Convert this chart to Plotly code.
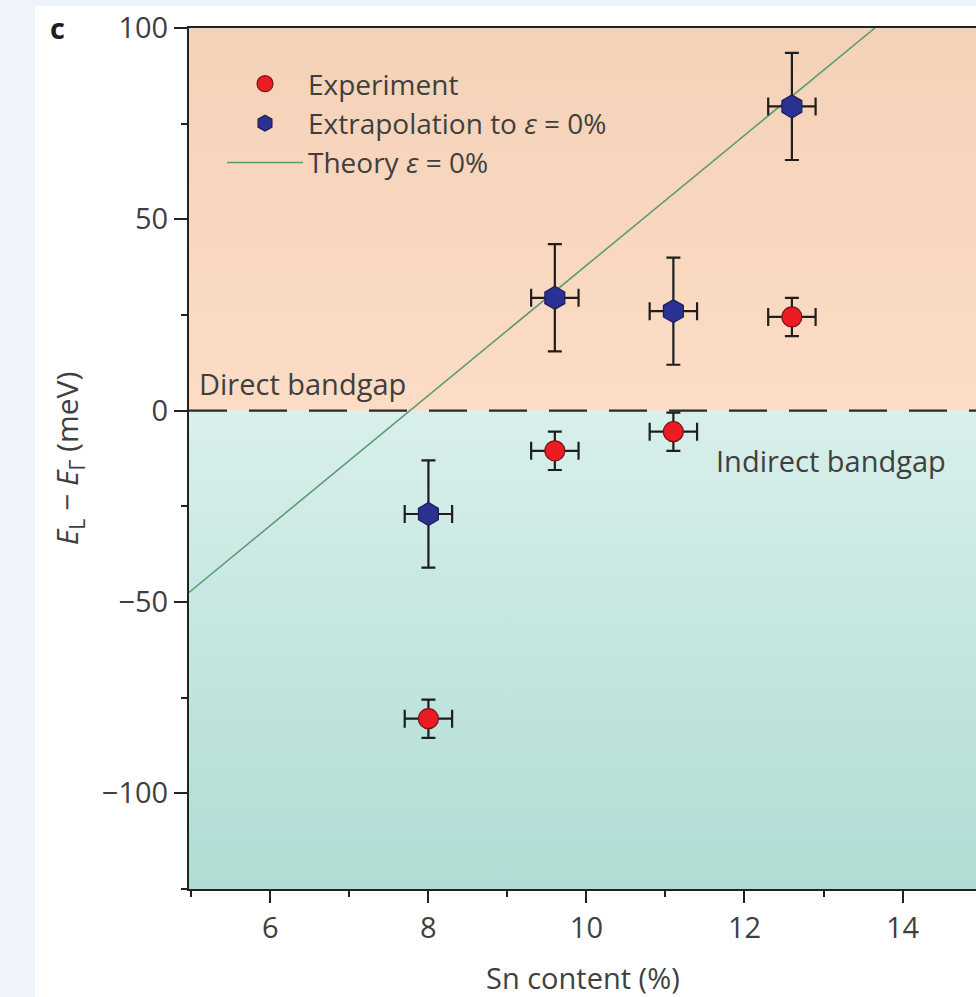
import plotly.graph_objects as go

# ---------------- data ----------------
exp_x = [8.0, 9.6, 11.1, 12.6]
exp_y = [-80.5, -10.5, -5.5, 24.5]
exp_xerr = [0.3, 0.3, 0.3, 0.3]
exp_yerr = [5, 5, 5, 5]

ext_x = [8.0, 9.6, 11.1, 12.6]
ext_y = [-27.0, 29.5, 26.0, 79.5]
ext_xerr = [0.3, 0.3, 0.3, 0.3]
ext_yerr = [14, 14, 14, 14]

theory_x = [4.97, 13.65]
theory_y = [-47.5, 100.0]

x_range = [4.97, 14.93]
y_range = [-125, 100]
y_ticks = [-100, -50, 0, 50, 100]
x_ticks = [6, 8, 10, 12, 14]

region_direct = [0, 100]
region_indirect = [-125, 0]

# ---------------- layout geometry ----------------
W, H = 976, 997
ML, MR, MT, MB = 189, 0, 28, 108
PW, PH = W - ML - MR, H - MT - MB

FONT = "Open Sans"
TXT = "#3f3f3f"
FS = 29

fig = go.Figure()

# background gradient regions
fig.add_trace(go.Scatter(
    x=[x_range[0], x_range[1], x_range[1], x_range[0]],
    y=[region_direct[0], region_direct[0], region_direct[1], region_direct[1]],
    fill="toself", mode="none", showlegend=False, hoverinfo="skip",
    fillgradient=dict(type="vertical", start=region_direct[0], stop=region_direct[1],
                      colorscale=[[0, "#fddcc5"], [1, "#f4d2b8"]]),
))
fig.add_trace(go.Scatter(
    x=[x_range[0], x_range[1], x_range[1], x_range[0]],
    y=[region_indirect[0], region_indirect[0], region_indirect[1], region_indirect[1]],
    fill="toself", mode="none", showlegend=False, hoverinfo="skip",
    fillgradient=dict(type="vertical", start=region_indirect[0], stop=region_indirect[1],
                      colorscale=[[0, "#afdcd4"], [1, "#d9efeb"]]),
))

# theory line
fig.add_trace(go.Scatter(
    x=theory_x, y=theory_y, mode="lines", name="Theory <i>ε</i> = 0%",
    line=dict(color="#5a9c76", width=1.6), hoverinfo="skip", legendrank=3,
))

err_style = dict(color="#1e1e1e", thickness=2.2)

fig.add_trace(go.Scatter(
    x=exp_x, y=exp_y, mode="markers", name="Experiment", legendrank=1,
    marker=dict(symbol="circle", size=20, color="#ec1c24",
                line=dict(color="#7a1418", width=1.2)),
    error_x=dict(type="data", array=exp_xerr, width=9, **err_style),
    error_y=dict(type="data", array=exp_yerr, width=7, **err_style),
))
fig.add_trace(go.Scatter(
    x=ext_x, y=ext_y, mode="markers", name="Extrapolation to <i>ε</i> = 0%", legendrank=2,
    marker=dict(symbol="hexagon", size=23, color="#2b3192",
                line=dict(color="#1a1c55", width=1.2)),
    error_x=dict(type="data", array=ext_xerr, width=9, **err_style),
    error_y=dict(type="data", array=ext_yerr, width=7, **err_style),
))

# panel backgrounds (page strip + white panel)
px = lambda p: (p - ML) / PW
py = lambda p: (H - MB - p) / PH
shapes = [
    dict(type="rect", xref="paper", yref="paper", x0=px(35), x1=px(W + 5), y0=py(H + 5), y1=py(6),
         fillcolor="white", line=dict(width=0), layer="below"),
    dict(type="line", xref="paper", yref="y", x0=0, x1=1, y0=0, y1=0,
         line=dict(color="#2a2a2a", width=2.4, dash="38px,22px"), layer="above"),
]

annotations = [
    dict(text="Direct bandgap", x=5.07, y=7, xref="x", yref="y", xanchor="left", yanchor="middle",
         showarrow=False, font=dict(family=FONT, size=FS, color=TXT)),
    dict(text="Indirect bandgap", x=11.62, y=-13, xref="x", yref="y", xanchor="left", yanchor="middle",
         showarrow=False, font=dict(family=FONT, size=FS, color=TXT)),
    dict(text="<b>c</b>", x=px(57), y=py(27), xref="paper", yref="paper", xanchor="center",
         yanchor="middle", showarrow=False, font=dict(family=FONT, size=29, color="#1e1e1e")),
    dict(text="Sn content (%)", x=0.5, y=py(977), xref="x domain", yref="paper", xanchor="center",
         yanchor="middle", showarrow=False, font=dict(family=FONT, size=FS, color=TXT)),
]

fig.update_layout(
    width=W, height=H,
    margin=dict(l=ML, r=MR, t=MT, b=MB, pad=0),
    paper_bgcolor="#eef4fa",
    plot_bgcolor="rgba(0,0,0,0)",
    font=dict(family=FONT, size=FS, color=TXT),
    shapes=shapes,
    annotations=annotations,
    showlegend=True,
    legend=dict(x=px(222), y=py(59), xanchor="left", yanchor="top",
                bgcolor="rgba(0,0,0,0)", borderwidth=0, itemwidth=76,
                font=dict(family=FONT, size=28, color=TXT), traceorder="normal",
                itemsizing="trace"),
)

fig.update_xaxes(
    range=x_range, tickmode="array", tickvals=x_ticks, ticktext=[str(t) for t in x_ticks],
    ticks="outside", ticklen=12, tickwidth=2, tickcolor="#222",
    showline=True, linecolor="#222", linewidth=2, mirror=True,
    showgrid=False, zeroline=False, automargin=False,
    minor=dict(tickmode="linear", tick0=5, dtick=1, ticks="outside", ticklen=6, tickwidth=2, tickcolor="#222", showgrid=False),
    tickfont=dict(family=FONT, size=FS, color=TXT),
)
fig.update_yaxes(
    range=y_range, tickmode="array", tickvals=y_ticks, ticktext=[str(t).replace("-", "\u2212") for t in y_ticks],
    ticks="outside", ticklen=13, tickwidth=2, tickcolor="#222",
    showline=True, linecolor="#222", linewidth=2, mirror=False,
    showgrid=False, zeroline=False, automargin=False,
    minor=dict(tickmode="linear", tick0=-125, dtick=25, ticks="outside", ticklen=6, tickwidth=2, tickcolor="#222", showgrid=False),
    tickfont=dict(family=FONT, size=FS, color=TXT),
    title=dict(text="<i>E</i><sub>L</sub> \u2212 <i>E</i><sub>\u0393</sub> (meV)",
               font=dict(family=FONT, size=30, color=TXT), standoff=14),
)

fig.write_html(
    "out.html",
    config={"displayModeBar": False},
    post_script="document.body.style.margin='0';document.body.style.overflow='hidden';"
                "document.body.style.background='#eef4fa';",
)
